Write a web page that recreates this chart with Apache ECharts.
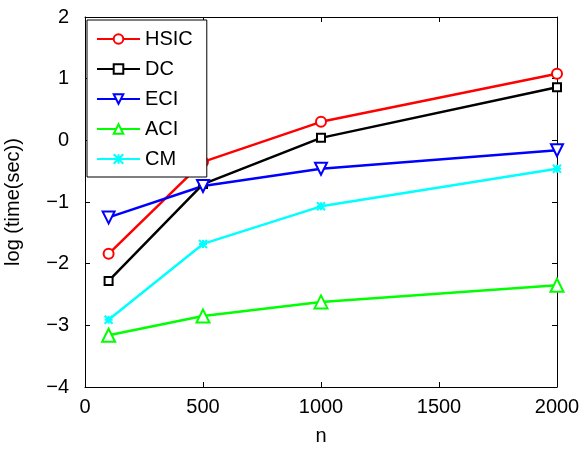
<!DOCTYPE html>
<html lang="en">
<head>
  <meta charset="UTF-8">
  <title>log time vs n</title>
  <style>
    html, body { margin: 0; padding: 0; background: #fff; }
    #echart { width: 582px; height: 451px; }
  </style>
</head>
<body>
  <div id="echart"></div>
  <script src="https://cdn.jsdelivr.net/npm/echarts@6/dist/echarts.min.js"></script>
  <script>
    // sample sizes
    var nValues = [100, 500, 1000, 2000];
    // log(time) for each method
    var hsic = [-1.84, -0.35, 0.30, 1.08];
    var dc   = [-2.28, -0.71, 0.04, 0.86];
    var eci  = [-1.25, -0.74, -0.46, -0.16];
    var aci  = [-3.16, -2.85, -2.62, -2.35];
    var cm   = [-2.91, -1.68, -1.07, -0.46];
    var yTicks = [-4, -3, -2, -1, 0, 1, 2];
    var xTicks = [0, 500, 1000, 1500, 2000];

    var font = 'Liberation Sans, Arial, sans-serif';

    function pairs(ys) {
      return nValues.map(function (n, i) { return [n, ys[i]]; });
    }

    function line(name, ys, color, symbol, size, extra) {
      var s = {
        name: name,
        type: 'line',
        data: pairs(ys),
        symbol: symbol,
        symbolSize: size,
        color: color,
        lineStyle: { color: color, width: 2.5 },
        itemStyle: { color: color, borderColor: color, borderWidth: 2 }
      };
      if (extra) {
        for (var k in extra) s[k] = extra[k];
      }
      return s;
    }

    var frameLine = { show: true, onZero: false, lineStyle: { color: '#000', width: 1 } };
    var frameTick = { show: true, inside: true, length: 5, lineStyle: { color: '#000' } };

    var option = {
      animation: false,
      backgroundColor: '#fff',
      textStyle: { fontFamily: font },
      grid: { left: 85, right: 25, top: 17, bottom: 64, containLabel: false, outerBoundsMode: 'none' },
      legend: {
        orient: 'vertical',
        left: 87,
        top: 20,
        itemWidth: 43,
        itemHeight: 12,
        itemGap: 10,
        padding: [9, 14, 8, 9],
        borderColor: '#000',
        borderWidth: 1,
        backgroundColor: '#fff',
        textStyle: { fontSize: 20, color: '#000', fontFamily: font, lineHeight: 20 },
        data: ['HSIC', 'DC', 'ECI', 'ACI', 'CM']
      },
      xAxis: [{
        type: 'value',
        min: xTicks[0],
        max: xTicks[xTicks.length - 1],
        interval: 500,
        name: 'n',
        nameLocation: 'middle',
        nameGap: 39,
        nameTextStyle: { fontSize: 20, color: '#000', fontFamily: font },
        axisLine: frameLine,
        axisTick: frameTick,
        axisLabel: {
          fontSize: 20, color: '#000', margin: 10, fontFamily: font,
          formatter: function (v) { return String(v); }
        },
        splitLine: { show: false }
      }, {
        type: 'value',
        position: 'top',
        min: xTicks[0],
        max: xTicks[xTicks.length - 1],
        interval: 500,
        axisLine: frameLine,
        axisTick: frameTick,
        axisLabel: { show: false },
        splitLine: { show: false }
      }],
      yAxis: [{
        type: 'value',
        min: yTicks[0],
        max: yTicks[yTicks.length - 1],
        interval: 1,
        name: 'log (time(sec))',
        nameLocation: 'middle',
        nameGap: 62,
        nameTextStyle: { fontSize: 20, color: '#000', fontFamily: font },
        axisLine: frameLine,
        axisTick: frameTick,
        axisLabel: {
          fontSize: 20, color: '#000', margin: 16, fontFamily: font,
          formatter: function (v) { return v < 0 ? '\u2212' + Math.abs(v) : String(v); }
        },
        splitLine: { show: false }
      }, {
        type: 'value',
        position: 'right',
        min: yTicks[0],
        max: yTicks[yTicks.length - 1],
        interval: 1,
        axisLine: frameLine,
        axisTick: frameTick,
        axisLabel: { show: false },
        splitLine: { show: false }
      }],
      series: [
        line('HSIC', hsic, '#ff0000', 'emptyCircle', 10),
        line('DC', dc, '#000000', 'emptyRect', 8),
        line('ECI', eci, '#0000ff', 'emptyTriangle', 12, { symbolRotate: 180 }),
        line('ACI', aci, '#00ff00', 'emptyTriangle', 13),
        line('CM', cm, '#00ffff', 'path://M0,0L10,10M10,0L0,10M5,0L5,10M0,5L10,5', 8)
      ]
    };

    var myChart = echarts.init(document.getElementById('echart'));
    myChart.setOption(option);
  </script>
</body>
</html>
